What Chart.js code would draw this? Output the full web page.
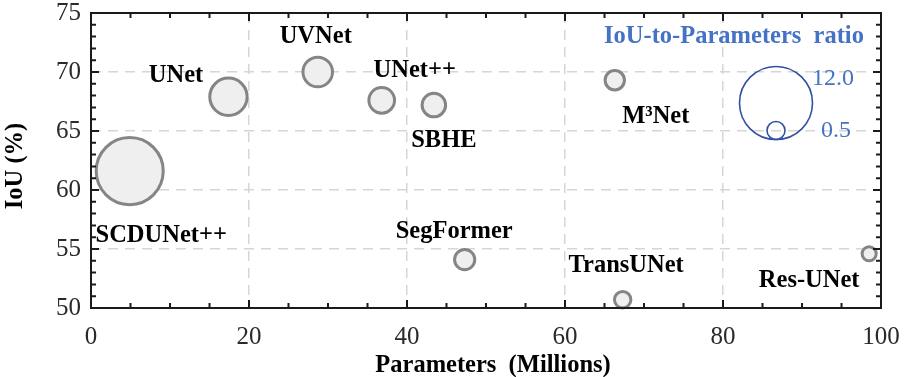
<!DOCTYPE html>
<html><head><meta charset="utf-8">
<script src="https://cdn.jsdelivr.net/npm/chart.js@4/dist/chart.umd.min.js"></script>
<style>html,body{margin:0;padding:0;background:#fff;}#wrap{width:911px;height:377px;position:relative;}canvas{display:block;}</style>
</head><body><div id="wrap"><canvas id="c" width="911" height="377"></canvas></div>
<script>
// ---- data ----
const models = ['SCDUNet++', 'UNet', 'UVNet', 'UNet++', 'SBHE', 'M³Net', 'SegFormer', 'TransUNet', 'Res-UNet'];
const params = [4.9, 17.4, 28.7, 36.8, 43.4, 66.3, 47.3, 67.3, 98.5];   // Millions
const iou    = [61.6, 67.9, 70.0, 67.6, 67.2, 69.3, 54.1, 50.7, 54.6];  // %
const xTickValues = [0, 20, 40, 60, 80, 100];
const yTickValues = [50, 55, 60, 65, 70, 75];
const legendRatios = [12.0, 0.5];
const legendLabels = ['12.0', '0.5'];

// ---- styles / label placement (pixel offsets from bubble centre) ----
const labelOffsets = [[31.5, 70.5], [-52.5, -14.5], [-2, -29], [33, -23.5], [10, 42], [41, 42.5], [-10.5, -22], [3.5, -28], [-60, 33]];
const SERIF = '"Liberation Serif", "Times New Roman", serif';
const radiusOf = ratio => 9.46 * Math.sqrt(ratio);

const bubbleData = params.map((p, i) => ({x: p, y: iou[i], r: radiusOf(iou[i] / p)}));

const framePlugin = {
  id: 'frame',
  afterDatasetsDraw(chart) {
    const {ctx, chartArea: a, scales: {x, y}} = chart;
    ctx.save();
    // labels
    ctx.font = 'bold 24.5px ' + SERIF;
    ctx.fillStyle = '#000';
    ctx.textAlign = 'center';
    ctx.textBaseline = 'alphabetic';
    models.forEach((m, i) => {
      const px = x.getPixelForValue(params[i]) + labelOffsets[i][0];
      const py = y.getPixelForValue(iou[i]) + labelOffsets[i][1];
      ctx.fillText(m, px, py);
    });
    // frame
    ctx.strokeStyle = '#1a1a1a';
    ctx.lineWidth = 2;
    ctx.strokeRect(a.left, a.top, a.right - a.left, a.bottom - a.top);
    // ticks (inward, all sides)
    ctx.lineWidth = 2;
    ctx.beginPath();
    for (let v = 0; v <= 100; v += 5) {
      const px = x.getPixelForValue(v);
      const len = (v % 20 === 0) ? 8 : 5;
      ctx.moveTo(px, a.bottom); ctx.lineTo(px, a.bottom - len);
      ctx.moveTo(px, a.top); ctx.lineTo(px, a.top + len);
    }
    for (let v = 50; v <= 75; v += 1) {
      const py = y.getPixelForValue(v);
      const len = (v % 5 === 0) ? 8 : 5;
      ctx.moveTo(a.left, py); ctx.lineTo(a.left + len, py);
      ctx.moveTo(a.right, py); ctx.lineTo(a.right - len, py);
    }
    ctx.stroke();
    // axis titles
    ctx.fillStyle = '#000';
    ctx.font = 'bold 24.5px ' + SERIF;
    ctx.textAlign = 'center';
    ctx.textBaseline = 'alphabetic';
    ctx.fillText('Parameters  (Millions)', 493, 372);
    ctx.save();
    ctx.translate(22, 166);
    ctx.rotate(-Math.PI / 2);
    ctx.fillText('IoU (%)', 0, 0);
    ctx.restore();
    // legend
    const blue = '#4472C4';
    ctx.fillStyle = blue;
    ctx.font = 'bold 24.5px ' + SERIF;
    ctx.fillText('IoU-to-Parameters  ratio', a.left + 643, 43);
    ctx.strokeStyle = '#2F52A0';
    ctx.lineWidth = 1.6;
    const cx = a.left + 685, bottom = 139.5;
    const lr = [36.5, 9];
    lr.forEach(r => {
      ctx.beginPath();
      ctx.arc(cx, bottom - r, r, 0, Math.PI * 2);
      ctx.stroke();
    });
    ctx.font = '24px ' + SERIF;
    ctx.textAlign = 'left';
    ctx.fillText(legendLabels[0], a.left + 721, 85);
    ctx.fillText(legendLabels[1], a.left + 730, 137);
    ctx.restore();
  }
};

const gridColor = (edgeA, edgeB) => ctx => (ctx.tick && (ctx.tick.value === edgeA || ctx.tick.value === edgeB)) ? 'rgba(0,0,0,0)' : '#d6d6d6';

new Chart(document.getElementById('c'), {
  type: 'bubble',
  data: {
    datasets: [{
      data: bubbleData,
      backgroundColor: '#efefef',
      borderColor: '#858585',
      borderWidth: 3,
      hoverBorderWidth: 3,
      hoverRadius: 0,
      clip: false
    }]
  },
  options: {
    responsive: false,
    animation: false,
    devicePixelRatio: 1,
    events: [],
    layout: {autoPadding: false, padding: {left: 0, top: 13, right: 30, bottom: 0}},
    plugins: {legend: {display: false}, tooltip: {enabled: false}, title: {display: false}},
    scales: {
      x: {
        type: 'linear', min: 0, max: 100,
        afterBuildTicks: s => { s.ticks = xTickValues.map(v => ({value: v})); },
        ticks: {font: {family: SERIF, size: 25}, color: '#2a2a2a', padding: 14, maxRotation: 0},
        grid: {color: gridColor(0, 100), lineWidth: 1.5, drawTicks: false},
        border: {display: false, dash: [10, 7]},
        afterFit: s => { s.height = 69; s.paddingLeft = 0; s.paddingRight = 0; }
      },
      y: {
        type: 'linear', min: 50, max: 75,
        afterBuildTicks: s => { s.ticks = yTickValues.map(v => ({value: v})); },
        ticks: {font: {family: SERIF, size: 25}, color: '#2a2a2a', padding: 10},
        grid: {color: gridColor(50, 75), lineWidth: 1.5, drawTicks: false},
        border: {display: false, dash: [10, 7]},
        afterFit: s => { s.width = 91; s.paddingTop = 0; s.paddingBottom = 0; }
      }
    }
  },
  plugins: [framePlugin]
});
</script>
</body></html>
